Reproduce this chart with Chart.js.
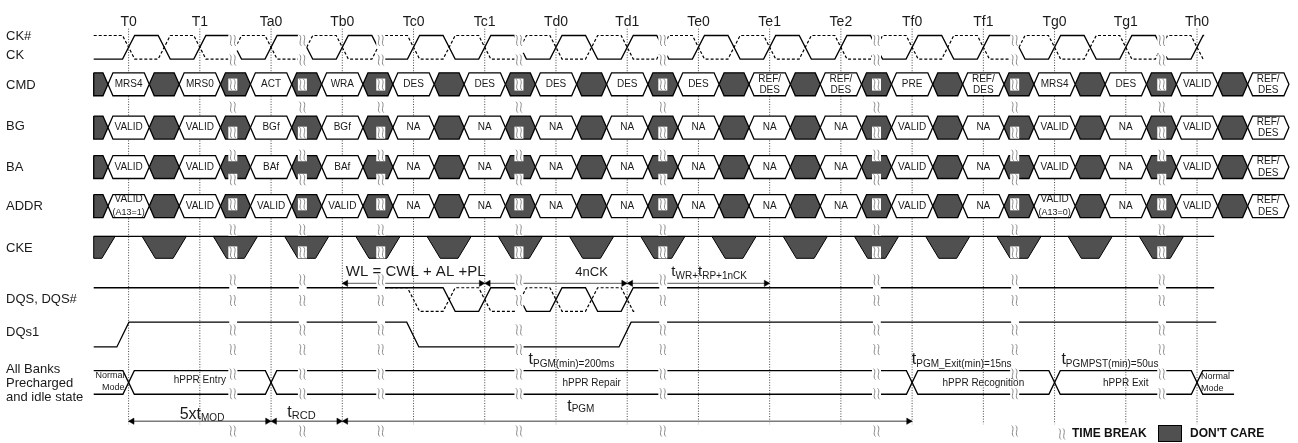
<!DOCTYPE html>
<html><head><meta charset="utf-8">
<script src="https://cdn.jsdelivr.net/npm/chart.js@4.4.1/dist/chart.umd.min.js"></script>
<style>html,body{margin:0;padding:0;background:#fff;}#wrap{width:1298px;height:443px;}</style>
</head><body><div id="wrap"><canvas id="c" width="1298" height="443"></canvas></div>
<script>
// ================= DATA =================
const tickLabels = ['T0','T1','Ta0','Tb0','Tc0','Tc1','Td0','Td1','Te0','Te1','Te2','Tf0','Tf1','Tg0','Tg1','Th0'];
const tickPositions = [0,1,2,3,4,5,6,7,8,9,10,11,12,13,14,15];
const slotPositions = [0,1,2,3,4,5,6,7,8,9,10,11,12,13,14,15,16];
const cmdLabels  = ['MRS4','MRS0','ACT','WRA','DES','DES','DES','DES','DES','REF/\nDES','REF/\nDES','PRE','REF/\nDES','MRS4','DES','VALID','REF/\nDES'];
const bgLabels   = ['VALID','VALID','BGf','BGf','NA','NA','NA','NA','NA','NA','NA','VALID','NA','VALID','NA','VALID','REF/\nDES'];
const baLabels   = ['VALID','VALID','BAf','BAf','NA','NA','NA','NA','NA','NA','NA','VALID','NA','VALID','NA','VALID','REF/\nDES'];
const addrLabels = ['VALID\n(A13=1)','VALID','VALID','VALID','NA','NA','NA','NA','NA','NA','NA','VALID','NA','VALID\n(A13=0)','NA','VALID','REF/\nDES'];
const breakPositions = [1.463, 2.44, 3.54, 5.48, 7.50, 10.50, 12.44, 14.505];
const ckeLowCenters = [-0.5,0.5,1.5,2.5,3.5,4.5,5.5,6.5,7.5,8.5,9.5,10.5,11.5,12.5,13.5,14.5];
const dqsEdges    = [[4.5,0],[5,1],[5.5,0],[6,1],[6.5,0],[7,1]];
const dqsBarEdges = [[4,0],[4.5,1],[5,0],[5.5,1],[6,0],[6.5,1],[7,0]];
const dqs1Edges   = [[-0.08,1],[3.99,0],[6.97,1]];
const stateEdges  = [0,2,11,13,15];
const stateLabels = ['Normal\nMode','hPPR Entry','hPPR Repair','hPPR Recognition','hPPR Exit','Normal\nMode'];
const arrowFrom  = [3,5,7,0,2,3];
const arrowTo    = [5,7,9,2,3,11];
const arrowLevel = ['upper','upper','upper','lower','lower','lower'];
const signalNames = ['CK#','CK','CMD','BG','BA','ADDR','CKE','DQS, DQS#','DQs1','All Banks','Precharged','and idle state'];

// ================= LAYOUT / STYLE =================
const X_MIN = -1.748, X_MAX = 16.36;
const L = {
  start: -0.49,
  end: {clk: 15.1, cke: 15.24, dqs: 15.24, dqs1: 15.27, bus: 15.52},
  ck: {hi: 32, lo: 56},
  hexY: {cmd: 81.7, bg: 125.8, ba: 166, addr: 205.8}, hexHalf: 11.7, hexTip: 0.29, hexSlope: 0.07,
  cke: {top: 236.7, bot: 259, topHalf: 0.31, botHalf: 0.125},
  dqs: {hi: 289, lo: 313},
  dqs1: {hi: 324, lo: 349.3},
  bus: {top: 373.5, bot: 397.5, hw: 0.08},
  arrowY: {upper: 284.5, lower: 425},
  grid: {top: 25, bottom: 428},
  edgeHW: 0.085,
  gap: [0.05, 0.06],
  squiggleY: [37, 57, 82, 105, 131, 154, 179, 204, 230, 253, 281, 302, 332, 352, 377, 397, 435],
  labelY: [33, 52.5, 83, 124.5, 166, 206, 249, 301, 335, 372, 386.5, 400.5]
};
const DARK = '#505050', FONT = '"Liberation Sans", Arial, sans-serif', TXT = '#1a1a1a';

// ================= HELPERS =================
function ds(points, opt) {
  return Object.assign({
    type: 'line', data: points.map(p => ({x: p[0], y: p[1]})),
    borderColor: '#000', borderWidth: 1.3, pointRadius: 0, pointHoverRadius: 0,
    tension: 0, fill: false, order: 3, borderJoinStyle: 'miter', spanGaps: false
  }, opt || {});
}
function wave(start, end, startLevel, edges, hw, hiY, loY) {
  const lv = v => v ? hiY : loY;
  const pts = [[start, lv(startLevel)]];
  let cur = startLevel;
  for (const [t, l] of edges) {
    if (t - hw < start || t + hw > end) continue;
    pts.push([t - hw, lv(cur)], [t + hw, lv(l)]);
    cur = l;
  }
  pts.push([end, lv(cur)]);
  return pts;
}
function yAt(pts, x) {
  for (let i = 0; i < pts.length - 1; i++) {
    const [x1, y1] = pts[i], [x2, y2] = pts[i + 1];
    if (x >= x1 && x <= x2) return x2 === x1 ? y2 : y1 + (y2 - y1) * (x - x1) / (x2 - x1);
  }
  return pts[pts.length - 1][1];
}
const gaps = breakPositions.map(b => [b - L.gap[0], b + L.gap[1]]);
function cut(pts) {
  let ranges = [[pts[0][0], pts[pts.length - 1][0]]];
  for (const [a, b] of gaps) {
    const next = [];
    for (const [s, e] of ranges) {
      if (b <= s || a >= e) next.push([s, e]);
      else { if (a > s) next.push([s, a]); if (b < e) next.push([b, e]); }
    }
    ranges = next;
  }
  return ranges.map(([s, e]) => [[s, yAt(pts, s)], ...pts.filter(p => p[0] > s && p[0] < e), [e, yAt(pts, e)]]);
}
function hex(left, right, yc, flatLeft) {
  const h = L.hexHalf, s = L.hexSlope, top = yc - h, bot = yc + h;
  if (flatLeft) return [[left, top], [right - s, top], [right, yc], [right - s, bot], [left, bot], [left, top]];
  return [[left, yc], [left + s, top], [right - s, top], [right, yc], [right - s, bot], [left + s, bot], [left, yc]];
}

// ================= DATASETS =================
const datasets = [];
// grid (dotted clock reference lines)
tickPositions.forEach(t => datasets.push(ds([[t, L.grid.top], [t, L.grid.bottom]], {borderColor: '#444', borderWidth: 1, borderDash: [1, 1.6], order: 10})));

// clock
const ckEdges = [], ckbEdges = [];
tickPositions.forEach((t, i) => {
  ckEdges.push([t, 1]); ckbEdges.push([t, 0]);
  if (i < tickPositions.length - 1) { ckEdges.push([t + 0.5, 0]); ckbEdges.push([t + 0.5, 1]); }
});
cut(wave(L.start, L.end.clk, 1, ckbEdges, L.edgeHW, L.ck.hi, L.ck.lo)).forEach(p => datasets.push(ds(p, {borderDash: [3, 2], borderWidth: 1.2, order: 4})));
cut(wave(L.start, L.end.clk, 0, ckEdges, L.edgeHW, L.ck.hi, L.ck.lo)).forEach(p => datasets.push(ds(p)));

// hex bus rows
[[cmdLabels, L.hexY.cmd], [bgLabels, L.hexY.bg], [baLabels, L.hexY.ba], [addrLabels, L.hexY.addr]].forEach(([labels, y]) => {
  slotPositions.forEach((k, i) => {
    const left = i === 0 ? L.start : slotPositions[i - 1] + L.hexTip;
    datasets.push(ds(hex(left, k - L.hexTip, y, i === 0), {backgroundColor: DARK, fill: 'shape', order: 5}));
    datasets.push(ds(hex(k - L.hexTip, k + L.hexTip, y, false), {backgroundColor: '#fff', fill: 'shape', order: 5}));
  });
});

// CKE
datasets.push(ds([[L.start, L.cke.top], [L.end.cke, L.cke.top]], {order: 4}));
ckeLowCenters.forEach(c => {
  const l = Math.max(c - L.cke.topHalf, L.start), lb = Math.max(c - L.cke.botHalf, L.start);
  datasets.push(ds([[l, L.cke.top], [c + L.cke.topHalf, L.cke.top], [c + L.cke.botHalf, L.cke.bot], [lb, L.cke.bot], [l, L.cke.top]],
    {backgroundColor: DARK, fill: 'shape', borderWidth: 1, order: 5}));
});

// DQS / DQS#
cut(wave(3.6, 7.1, 1, dqsBarEdges, L.edgeHW, L.dqs.hi, L.dqs.lo)).forEach(p => datasets.push(ds(p, {borderDash: [3, 2], borderWidth: 1.2, order: 4})));
cut(wave(L.start, L.end.dqs, 1, dqsEdges, L.edgeHW, L.dqs.hi, L.dqs.lo)).forEach(p => datasets.push(ds(p)));
// DQs1
cut(wave(L.start, L.end.dqs1, 0, dqs1Edges, L.edgeHW, L.dqs1.hi, L.dqs1.lo)).forEach(p => datasets.push(ds(p)));
// state bus
const busA = stateEdges.map((t, i) => [t, i % 2 ? 1 : 0]);
const busB = stateEdges.map((t, i) => [t, i % 2 ? 0 : 1]);
cut(wave(L.start, L.end.bus, 1, busA, L.bus.hw, L.bus.top, L.bus.bot)).forEach(p => datasets.push(ds(p)));
cut(wave(L.start, L.end.bus, 0, busB, L.bus.hw, L.bus.top, L.bus.bot)).forEach(p => datasets.push(ds(p)));

// timing arrows
const HEAD = 3.6 / 71.68;
const rightHeads = [], leftHeads = [];
arrowFrom.forEach((a, i) => {
  const y = L.arrowY[arrowLevel[i]];
  datasets.push(ds([[a, y], [arrowTo[i], y]], {borderColor: '#7a7a7a', borderWidth: 1.4, order: 2}));
  leftHeads.push([a + HEAD, y]); rightHeads.push([arrowTo[i] - HEAD, y]);
});
datasets.push(ds(leftHeads, {showLine: false, pointRadius: 3.6, pointStyle: 'triangle', rotation: -90, pointBackgroundColor: '#000', pointBorderColor: '#000', pointBorderWidth: 0.5, order: 1}));
datasets.push(ds(rightHeads, {showLine: false, pointRadius: 3.6, pointStyle: 'triangle', rotation: 90, pointBackgroundColor: '#000', pointBorderColor: '#000', pointBorderWidth: 0.5, order: 1}));

// ================= TEXT / DECOR PLUGIN =================
function squiggle(ctx, x, y) {
  ctx.save();
  ctx.fillStyle = '#fff';
  ctx.fillRect(x - 4.5, y - 6, 9, 12);
  ctx.strokeStyle = '#8a8a8a'; ctx.lineWidth = 1;
  for (const dx of [-2, 2]) {
    ctx.beginPath();
    ctx.moveTo(x + dx - 1, y - 5.5);
    ctx.bezierCurveTo(x + dx + 2.6, y - 2.5, x + dx - 2.6, y + 2.5, x + dx + 1, y + 5.5);
    ctx.stroke();
  }
  ctx.restore();
}
function rich(ctx, x, y, parts) {
  let cx = x;
  for (const p of parts) {
    ctx.font = p.size + 'px ' + FONT;
    ctx.fillText(p.t, cx, y + (p.dy || 0));
    cx += ctx.measureText(p.t).width;
  }
}
const annotations = [
  {x: 3.05, y: 272.5, parts: [{t: 'WL = CWL + AL +PL', size: 15}]},
  {x: 7.62, y: 273, parts: [{t: 't', size: 15}, {t: 'WR+', size: 10, dy: 4}, {t: 't', size: 15}, {t: 'RP+1nCK', size: 10, dy: 4}]},
  {x: 5.615, y: 362.5, parts: [{t: 't', size: 16}, {t: 'PGM(min)=200ms', size: 10, dy: 4}]},
  {x: 10.996, y: 362.5, parts: [{t: 't', size: 16}, {t: 'PGM_Exit(min)=15ns', size: 10, dy: 4}]},
  {x: 13.096, y: 362.5, parts: [{t: 't', size: 16}, {t: 'PGMPST(min)=50us', size: 10, dy: 4}]},
  {x: 0.717, y: 418, parts: [{t: '5xt', size: 16}, {t: 'MOD', size: 10, dy: 3.5}]},
  {x: 2.228, y: 416.5, parts: [{t: 't', size: 16}, {t: 'RCD', size: 11, dy: 3.5}]},
  {x: 6.158, y: 410, parts: [{t: 't', size: 16}, {t: 'PGM', size: 10, dy: 3}]}
];
const decor = {
  id: 'decor',
  afterDatasetsDraw(chart) {
    const ctx = chart.ctx, X = v => chart.scales.x.getPixelForValue(v), Y = v => chart.scales.y.getPixelForValue(v);
    // time-break marks
    breakPositions.forEach(b => L.squiggleY.forEach(y => squiggle(ctx, X(b), Y(y))));
    ctx.save();
    ctx.fillStyle = TXT; ctx.textBaseline = 'middle';
    // clock labels
    ctx.textAlign = 'center'; ctx.font = '14px ' + FONT;
    tickPositions.forEach((t, i) => ctx.fillText(tickLabels[i], X(t), Y(18)));
    // signal names
    ctx.textAlign = 'left'; ctx.font = '13px ' + FONT;
    signalNames.forEach((s, i) => ctx.fillText(s, 6, Y(L.labelY[i])));
    // hex labels
    ctx.textAlign = 'center';
    [[cmdLabels, L.hexY.cmd], [bgLabels, L.hexY.bg], [baLabels, L.hexY.ba], [addrLabels, L.hexY.addr]].forEach(([labels, y]) => {
      labels.forEach((lab, i) => {
        const x = X(slotPositions[i]);
        const lines = lab.split('\n');
        if (lines.length === 1) { ctx.font = '10px ' + FONT; ctx.fillText(lab, x, Y(y)); }
        else if (lines[1].startsWith('(')) {
          ctx.font = '10px ' + FONT; ctx.fillText(lines[0], x, Y(y - 6.5));
          ctx.font = '9px ' + FONT; ctx.fillText(lines[1], x, Y(y + 6.5));
        } else {
          ctx.font = '10px ' + FONT; ctx.fillText(lines[0], x, Y(y - 5.5)); ctx.fillText(lines[1], x, Y(y + 6));
        }
      });
    });
    // state labels
    const busMid = (L.bus.top + L.bus.bot) / 2;
    ctx.font = '10px ' + FONT;
    stateLabels.forEach((lab, i) => {
      if (i === 0) {
        ctx.textAlign = 'right'; ctx.font = '9px ' + FONT;
        const [a, b] = lab.split('\n');
        ctx.fillText(a, X(stateEdges[0]) - 4, Y(busMid - 7)); ctx.fillText(b, X(stateEdges[0]) - 4, Y(busMid + 5));
      } else if (i === stateLabels.length - 1) {
        ctx.textAlign = 'left'; ctx.font = '9px ' + FONT;
        const [a, b] = lab.split('\n');
        const x0 = X(stateEdges[stateEdges.length - 1]) + 4;
        ctx.fillText(a, x0, Y(busMid - 6)); ctx.fillText(b, x0, Y(busMid + 6.5));
      } else {
        ctx.textAlign = 'center'; ctx.font = '10px ' + FONT;
        ctx.fillText(lab, X((stateEdges[i - 1] + stateEdges[i]) / 2), Y(i === 1 ? busMid - 2 : busMid + 1));
      }
    });
    // timing annotations
    ctx.textAlign = 'center'; ctx.font = '13px ' + FONT;
    ctx.fillText('4nCK', X(6.5), Y(273));
    ctx.textAlign = 'left';
    annotations.forEach(a => rich(ctx, X(a.x), Y(a.y), a.parts));
    // legend
    squiggle(ctx, 1062, 434);
    ctx.font = 'bold 12px ' + FONT; ctx.fillStyle = '#111';
    ctx.fillText('TIME BREAK', 1072, 434);
    ctx.fillStyle = DARK; ctx.fillRect(1158.5, 425.5, 23, 16);
    ctx.strokeStyle = '#000'; ctx.lineWidth = 1; ctx.strokeRect(1158.5, 425.5, 23, 16);
    ctx.fillStyle = '#111';
    ctx.fillText("DON'T CARE", 1190, 434);
    ctx.restore();
  }
};

new Chart(document.getElementById('c'), {
  type: 'line',
  data: {datasets},
  options: {
    responsive: false, animation: false, devicePixelRatio: 1, events: [],
    layout: {padding: 0},
    plugins: {legend: {display: false}, tooltip: {enabled: false}},
    scales: {
      x: {type: 'linear', min: X_MIN, max: X_MAX, display: false},
      y: {type: 'linear', min: 0, max: 443, reverse: true, display: false}
    }
  },
  plugins: [decor]
});
</script></body></html>
